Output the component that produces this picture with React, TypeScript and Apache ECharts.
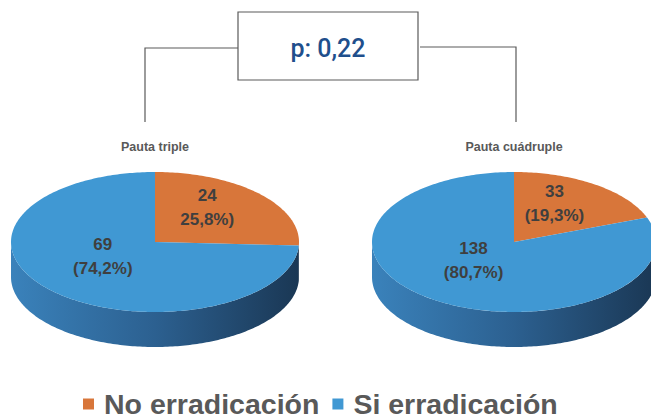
import React, { useEffect, useRef } from "react";
import * as echarts from "echarts";

// ---- data ----
const pieTitles = ["Pauta triple", "Pauta cuádruple"];
const seriesNames = ["No erradicación", "Si erradicación"];
const noErradicacion = [24, 33];
const siErradicacion = [69, 138];
const noPctLabels = ["25,8%)", "(19,3%)"];
const siPctLabels = ["(74,2%)", "(80,7%)"];
const pValueText = "p: 0,22";

// ---- layout ----
const PIE_CX = [155, 514];
const PIE_RX = [144, 142];
const PIE_CY = 242;
const PIE_RY = 70;
const DEPTH = 35;
const TOP_COLORS = ["#d8763a", "#4098d3"];
const SIDE_STOPS = [
  [
    { offset: 0, color: "#c4672e" },
    { offset: 0.5, color: "#a4531f" },
    { offset: 1, color: "#6a3210" },
  ],
  [
    { offset: 0, color: "#3a82bb" },
    { offset: 0.5, color: "#2c6090" },
    { offset: 1, color: "#1a3754" },
  ],
];
const LABEL_COLOR = "#3f3f3f";

function buildData(k: number) {
  return pieTitles.map((_, i) => {
    const total = noErradicacion[i] + siErradicacion[i];
    const start = k === 0 ? 0 : noErradicacion[i];
    const value = k === 0 ? noErradicacion[i] : siErradicacion[i];
    const label = k === 0 ? noPctLabels[i] : siPctLabels[i];
    return { value: [i, start, value, total], label: `${value}\n${label}` };
  });
}

function makeRenderItem(k: number, data: any[]) {
  return (params: any, api: any) => {
    const pie = api.value(0);
    const start = api.value(1);
    const val = api.value(2);
    const total = api.value(3);
    const cx = PIE_CX[pie];
    const rx = PIE_RX[pie];
    const a1 = (start / total) * 360;
    const a2 = ((start + val) / total) * 360;
    const pt = (deg: number, dy = 0) => {
      const r = (deg * Math.PI) / 180;
      return [cx + rx * Math.sin(r), PIE_CY - PIE_RY * Math.cos(r) + dy];
    };
    const children: any[] = [];
    const s1 = Math.max(a1, 90);
    const s2 = Math.min(a2, 270);
    if (s2 > s1) {
      const pts: number[][] = [];
      for (let d = s1; d < s2; d += 1) pts.push(pt(d));
      pts.push(pt(s2));
      for (let d = s2; d > s1; d -= 1) pts.push(pt(d, DEPTH));
      pts.push(pt(s1, DEPTH));
      children.push({
        type: "polygon",
        shape: { points: pts },
        style: {
          fill: new echarts.graphic.LinearGradient(cx - rx, 0, cx + rx, 0, SIDE_STOPS[k], true),
        },
      });
    }
    const top: number[][] = [[cx, PIE_CY]];
    for (let d = a1; d < a2; d += 1) top.push(pt(d));
    top.push(pt(a2));
    children.push({
      type: "polygon",
      shape: { points: top },
      style: { fill: TOP_COLORS[k] },
    });
    const mid = (a1 + a2) / 2;
    const lp = pt(mid);
    const lx = cx + (lp[0] - cx) * 0.5;
    const ly = PIE_CY + (lp[1] - PIE_CY) * 0.5 - 10;
    children.push({
      type: "text",
      z2: 20,
      x: lx,
      y: ly,
      style: {
        text: data[params.dataIndex].label,
        fill: LABEL_COLOR,
        font: "bold 17px 'Liberation Sans', Arial, sans-serif",
        lineHeight: 24,
        align: "center",
        verticalAlign: "middle",
      },
    });
    return { type: "group", children };
  };
}

export default function App() {
  const ref = useRef<HTMLDivElement>(null);
  useEffect(() => {
    if (!ref.current) return;
    const chart = echarts.init(ref.current, undefined, { renderer: "svg" });
    const series = seriesNames.map((name, k) => {
      const data = buildData(k);
      return {
        type: "custom",
        name,
        coordinateSystem: "none",
        itemStyle: { color: TOP_COLORS[k] },
        data: data.map((d) => d.value),
        renderItem: makeRenderItem(k, data),
      };
    });
    const lineStyle = { stroke: "#5a5a5a", lineWidth: 1.2, fill: "none" };
    chart.setOption({
      animation: false,
      backgroundColor: "#ffffff",
      legend: {
        data: seriesNames,
        left: 83,
        top: 389,
        padding: 0,
        icon: "rect",
        itemWidth: 11,
        itemHeight: 11,
        itemGap: 13,
        selectedMode: false,
        textStyle: {
          fontSize: 28.5,
          fontWeight: "bold",
          color: "#595959",
          fontFamily: "'Liberation Sans', Arial, sans-serif",
          padding: [0, 0, 0, 5],
          lineHeight: 30,
        },
      },
      graphic: [
        { type: "polyline", shape: { points: [[145, 122], [145, 48], [238, 48]] }, style: lineStyle },
        { type: "polyline", shape: { points: [[420, 47], [516, 47], [516, 122]] }, style: lineStyle },
        {
          type: "rect",
          shape: { x: 238, y: 12, width: 180, height: 68 },
          style: { stroke: "#5a5a5a", lineWidth: 1.2, fill: "#ffffff" },
        },
        {
          type: "text",
          x: 328,
          y: 48,
          style: {
            text: pValueText,
            fill: "#1f4f8c",
            font: "500 25px Roboto, 'Liberation Sans', Arial, sans-serif",
            align: "center",
            verticalAlign: "middle",
          },
        },
        ...pieTitles.map((t, i) => ({
          type: "text",
          x: PIE_CX[i],
          y: 147,
          style: {
            text: t,
            fill: "#595959",
            font: "bold 12.5px 'Liberation Sans', Arial, sans-serif",
            align: "center",
            verticalAlign: "middle",
          },
        })),
      ],
      series,
    });
    return () => chart.dispose();
  }, []);
  return (
    <div
      ref={ref}
      style={{ position: "absolute", left: 0, top: 0, width: 651, height: 419 }}
    />
  );
}
